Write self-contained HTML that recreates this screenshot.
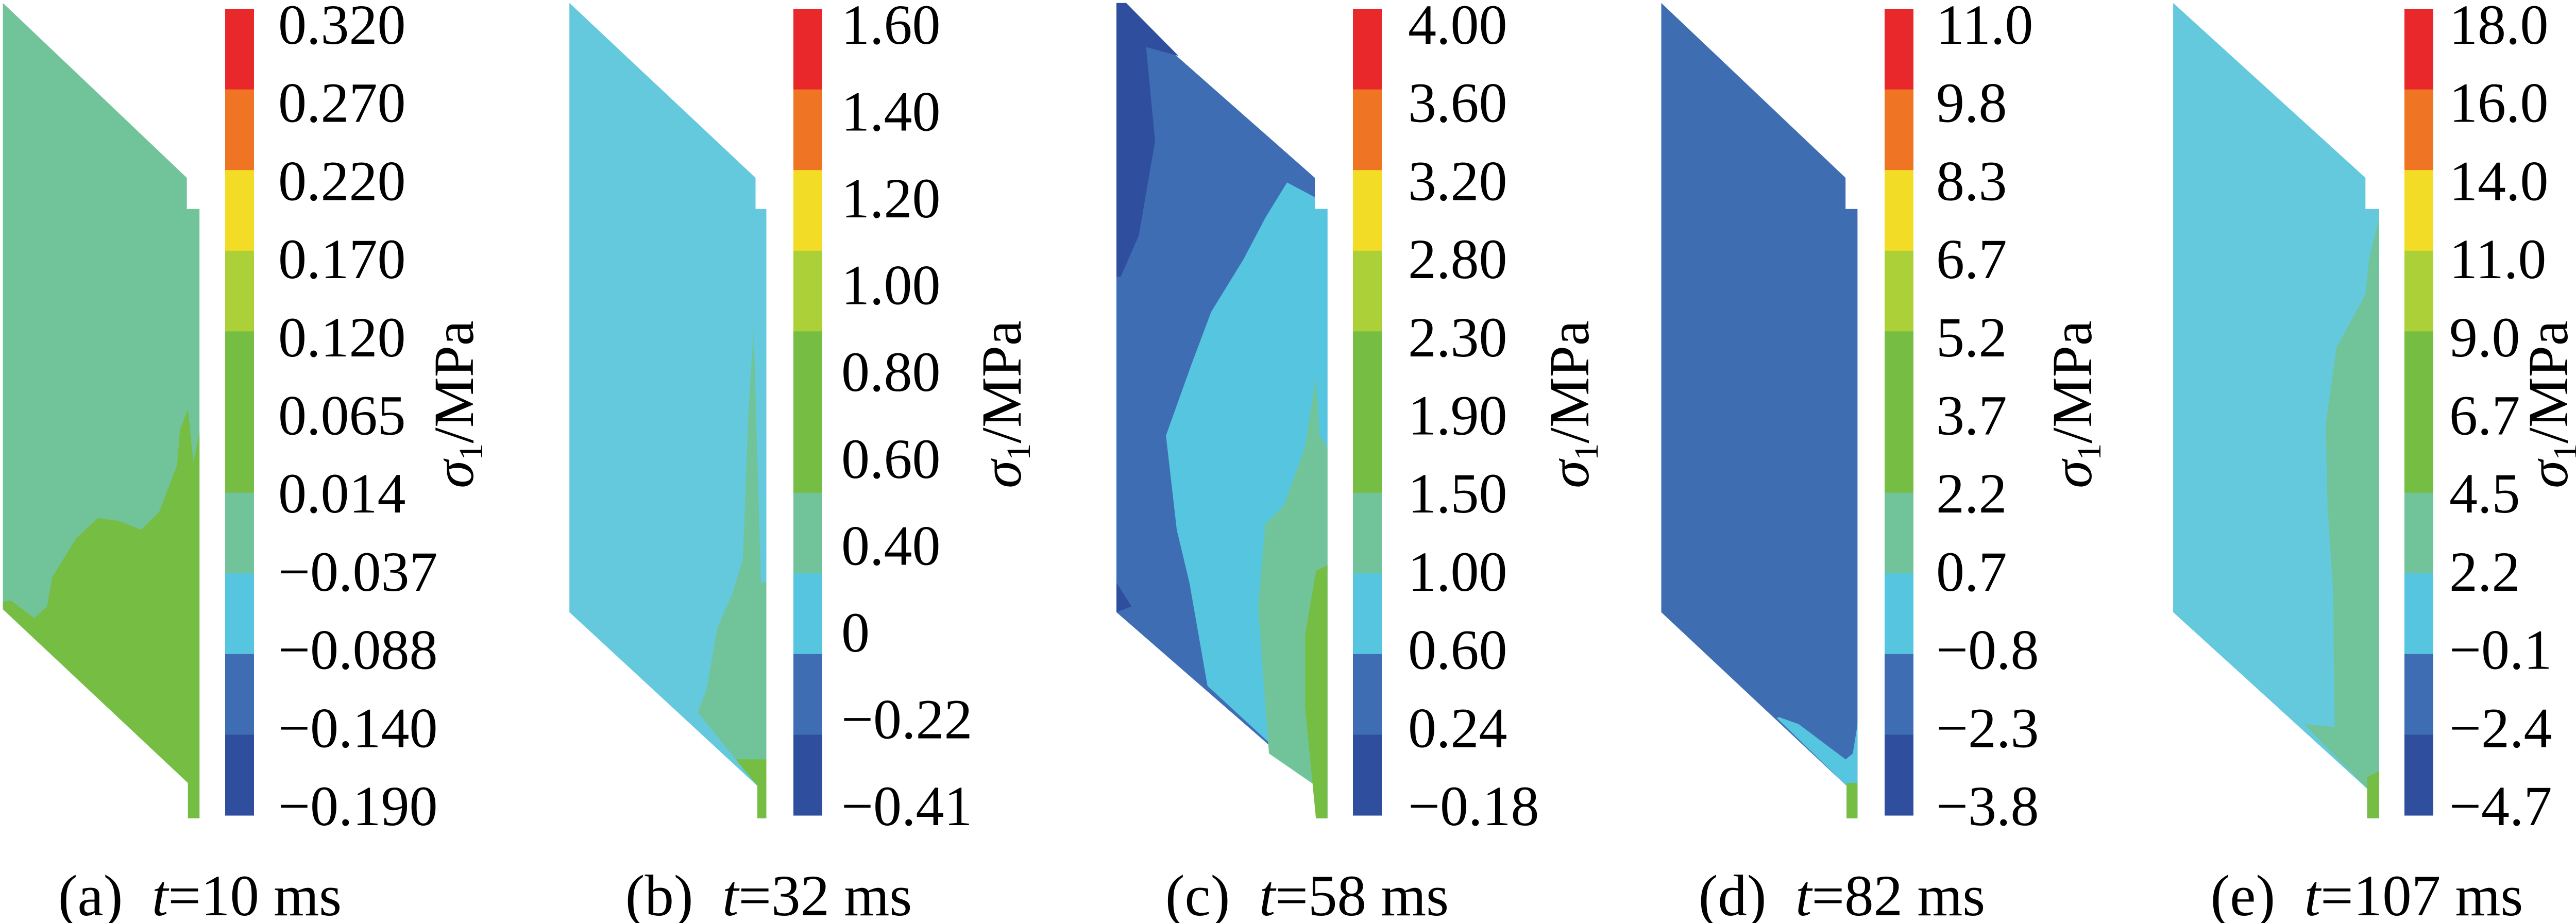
<!DOCTYPE html>
<html><head><meta charset="utf-8"><style>
html,body{margin:0;padding:0;background:#fff;}
svg{display:block;font-family:"Liberation Serif",serif;}
</style></head><body>
<svg id="fig" xmlns="http://www.w3.org/2000/svg" width="5074" height="1792" viewBox="0 0 5074 1792"></svg>
<script>
const panelLetters = ['a','b','c','d','e'];
const panelTimes = [10, 32, 58, 82, 107];
const tickLabelsA = ['0.320','0.270','0.220','0.170','0.120','0.065','0.014','\u22120.037','\u22120.088','\u22120.140','\u22120.190'];
const tickLabelsB = ['1.60','1.40','1.20','1.00','0.80','0.60','0.40','0','\u22120.22','\u22120.41'];
const tickLabelsC = ['4.00','3.60','3.20','2.80','2.30','1.90','1.50','1.00','0.60','0.24','\u22120.18'];
const tickLabelsD = ['11.0','9.8','8.3','6.7','5.2','3.7','2.2','0.7','\u22120.8','\u22122.3','\u22123.8'];
const tickLabelsE = ['18.0','16.0','14.0','11.0','9.0','6.7','4.5','2.2','\u22120.1','\u22122.4','\u22124.7'];
const bandColors = ['#e8282a','#ef7424','#f2dc25','#acd037','#76bd43','#76bd43','#71c49a','#56c5e0','#3e6db3','#2f4f9e'];

const NS='http://www.w3.org/2000/svg';
const svg=document.getElementById('fig');
function mk(tag,attrs,parent){const e=document.createElementNS(NS,tag);for(const k in attrs)e.setAttribute(k,attrs[k]);(parent||svg).appendChild(e);return e;}

const layout=[
 {off:0,   cbx:437, lx:540, tx:880, cap:388},
 {off:1000,cbx:1540,lx:1633,tx:1943,cap:1492},
 {off:2000,cbx:2626,lx:2733,tx:3045,cap:2537},
 {off:3000,cbx:3658,lx:3758,tx:4021,cap:3575},
 {off:3974,cbx:4667,lx:4754,tx:4945,cap:4594}
];
const regions=[
 [['#71c49a',[[8,5],[517,302],[517,355],[552,355],[552,1390],[520,1390],[520,1330],[8,1035]]],
  ['#76bd43',[[8,1022],[30,1020],[95,1050],[130,1030],[145,980],[210,915],[270,880],[330,885],[390,900],[440,870],[490,790],[498,730],[520,695],[535,785],[552,735],[552,1390],[520,1390],[520,1330],[8,1035]]]],
 [['#64c9dc',[[150,5],[665,302],[665,355],[695,355],[695,1390],[670,1390],[670,1335],[150,1040]]],
  ['#71c49a',[[660,560],[680,990],[695,990],[695,1290],[610,1290],[505,1210],[530,1170],[560,1065],[600,1010],[630,950],[645,700]]],
  ['#76bd43',[[610,1290],[695,1290],[695,1390],[670,1390],[670,1335]]]],
 [['#3e6db3',[[238,5],[787,302],[787,355],[822,355],[822,1390],[790,1390],[790,1335],[238,1040]]],
  ['#2f4f9e',[[238,5],[265,5],[410,95],[320,80],[345,240],[300,400],[250,470],[238,470]]],
  ['#2f4f9e',[[238,990],[280,1030],[238,1040]]],
  ['#56c5e0',[[710,310],[787,335],[787,355],[822,355],[822,1390],[790,1390],[790,1335],[490,1165],[440,990],[405,900],[375,740],[445,620],[500,530],[590,440],[650,370]]],
  ['#71c49a',[[790,640],[800,740],[822,760],[822,1390],[790,1390],[790,1335],[660,1280],[630,1030],[650,890],[700,860],[760,760]]],
  ['#76bd43',[[822,960],[822,1390],[790,1390],[760,1200],[760,1080],[790,970]]]],
 [['#3f6db2',[[320,5],[830,302],[830,355],[863,355],[863,1390],[833,1390],[833,1335],[320,1040]]],
  ['#56c5e0',[[645,1218],[700,1230],[830,1290],[850,1280],[863,1230],[863,1390],[833,1390],[833,1335],[640,1220]]],
  ['#76bd43',[[833,1330],[863,1330],[863,1390],[833,1390]]]],
 [['#64c9dc',[[348,5],[880,302],[880,355],[918,355],[918,1390],[885,1390],[885,1340],[348,1040]]],
  ['#71c49a',[[918,370],[890,440],[880,500],[800,590],[770,720],[775,860],[790,1000],[795,1235],[710,1230],[885,1340],[885,1390],[918,1390]]],
  ['#76bd43',[[885,1320],[918,1310],[918,1390],[885,1390]]]]
];
const allTicks=[tickLabelsA,tickLabelsB,tickLabelsC,tickLabelsD,tickLabelsE];
const cbTop=17, cbBot=1583, cbW=56, labTop=48, labBot=1565;

layout.forEach((p,i)=>{
  const g=mk('g',{});
  
  
  const cg=mk('g',{},g);
  
  
  regions[i].forEach((r,j)=>{
    const pts=r[1].map(q=>(p.off+q[0]*0.7015).toFixed(1)+','+(q[1]*1.1429).toFixed(1)).join(' ');
    const poly=mk('polygon',{points:pts,fill:r[0]},cg);
    
    
  });
  const cb=mk('g',{},g);
  
  
  const n=bandColors.length, bh=(cbBot-cbTop)/n;
  bandColors.forEach((c,k)=>{
    const r=mk('rect',{x:p.cbx,y:cbTop+k*bh,width:cbW,height:bh+0.5,fill:c},cb);
    
    
  });
  const ticks=allTicks[i];
  const step=(labBot-labTop)/(ticks.length-1);
  ticks.forEach((t,k)=>{
    const tx=mk('text',{x:p.lx,y:labTop+k*step+37,'font-size':110,fill:'#000'},cb);
    
    
    tx.textContent=t;
  });
  const ti=mk('text',{x:0,y:0,'font-size':110,'text-anchor':'middle',transform:`translate(${p.tx+38},785) rotate(-90)`,fill:'#000'},g);
  
  
  const s1=mk('tspan',{'font-style':'italic'},ti); s1.textContent='\u03c3';
  const s2=mk('tspan',{'font-size':66,dy:18},ti); s2.textContent='1';
  const s3=mk('tspan',{dy:-18},ti); s3.textContent='/MPa';
  const cap=mk('text',{x:p.cap,y:1777,'font-size':113,'text-anchor':'middle',fill:'#000'},g);
  
  
  const c1=mk('tspan',{},cap); c1.textContent='('+panelLetters[i]+')\u00a0\u00a0';
  const c2=mk('tspan',{'font-style':'italic'},cap); c2.textContent='t';
  const c3=mk('tspan',{},cap); c3.textContent='='+panelTimes[i]+' ms';
});
</script>
</body></html>
